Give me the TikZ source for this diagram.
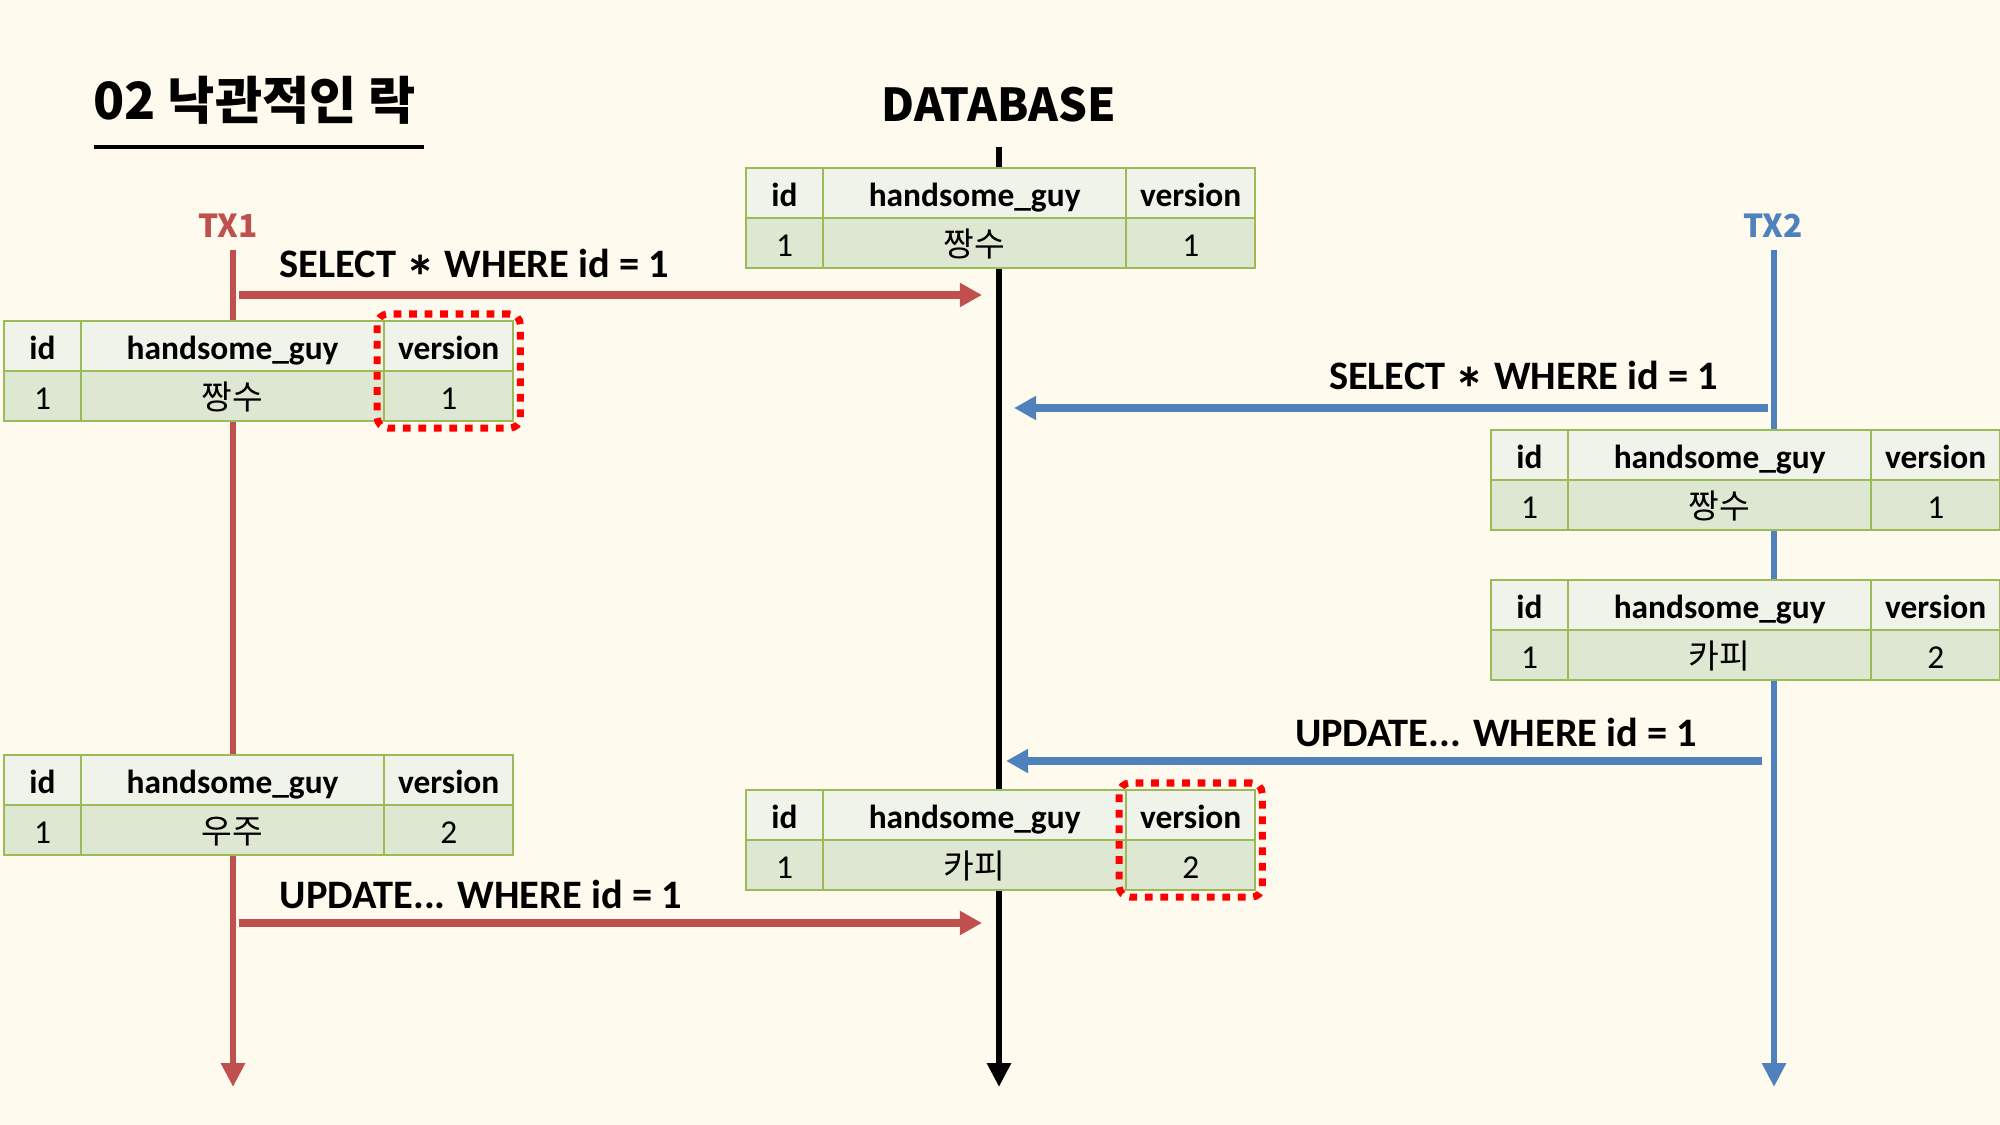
\documentclass[tikz,border=0pt]{standalone}
\usepackage{fontspec}
\setmainfont{Carlito}
\newfontfamily\kr{Noto Sans CJK KR}
\usetikzlibrary{arrows.meta,positioning,fit}
\definecolor{bgcream}{HTML}{FEFAEE}
\definecolor{txred}{HTML}{C0504D}
\definecolor{txblue}{HTML}{4F81BD}
\definecolor{cellline}{HTML}{9BBB59}
\definecolor{cellhead}{HTML}{F0F3EA}
\definecolor{cellrow}{HTML}{DEE7D1}
\tikzset{
	hd/.style={draw=cellline,fill=cellhead,line width=0.6pt,minimum height=0.5cm,inner sep=0pt,outer sep=0pt,text height=0.9em,text depth=0.15em,font=\fontsize{9.5}{10}\selectfont\bfseries},
	rw/.style={hd,fill=cellrow,font=\fontsize{9.5}{10}\selectfont},
	query/.style={inner sep=0pt,font=\fontsize{11.5}{12}\selectfont\bfseries},
	msg/.style={line width=2pt,-{Triangle[length=6.3pt,width=6.5pt]}},
	life/.style={line width=1.8pt,-{Triangle[length=6.8pt,width=6.5pt]}},
	hilite/.style={draw=red,line width=2pt,dash pattern=on 2.2pt off 2.2pt,rounded corners=3pt,inner sep=0.07cm},
}
\newcommand{\qstar}{\raisebox{-0.5em}{\scalebox{1.5}{*}}}
% one row of the table: name, position, handsome_guy, version
\newcommand{\guytab}[4]{%
	\node[hd,minimum width=0.77cm,anchor=north west] (#1-a) at (#2) {id};
	\node[hd,minimum width=3.03cm,right=0pt of #1-a] (#1-b) {handsome\_guy};
	\node[hd,minimum width=1.29cm,right=0pt of #1-b] (#1-c) {version};
	\node[rw,minimum width=0.77cm,below=0pt of #1-a] (#1-d) {1};
	\node[rw,minimum width=3.03cm,below=0pt of #1-b] (#1-e) {\kr #3};
	\node[rw,minimum width=1.29cm,below=0pt of #1-c] (#1-f) {#4};
}
\begin{document}
\begin{tikzpicture}[x=0.01cm,y=-0.01cm]
	\fill[bgcream] (0,0) rectangle (2000,1125);
	\useasboundingbox (0,0) rectangle (2000,1125);
	%title
	\node[anchor=base west,inner sep=0pt,font=\kr\bfseries\fontsize{14.6}{15}\selectfont] (title) at (93,120) {02 낙관적인 락};
	\coordinate (ul-a) at (94,147); \coordinate (ul-b) at (424,147);
	\draw[line width=1.1pt] (ul-a)--(ul-b);
	\node[anchor=base,inner sep=0pt,font=\kr\bfseries\fontsize{12.9}{13}\selectfont] (db) at (999,122) {DATABASE};
	\node[anchor=base,inner sep=0pt,text=txred,font=\kr\bfseries\fontsize{9}{9}\selectfont] (tx1) at (228,238) {TX1};
	\node[anchor=base,inner sep=0pt,text=txblue,font=\kr\bfseries\fontsize{9}{9}\selectfont] (tx2) at (1773,238) {TX2};
	%lifelines
	\coordinate (tx1-top) at (233,250); \coordinate (tx1-end) at (233,1087);
	\coordinate (db-top) at (999,147); \coordinate (db-end) at (999,1087);
	\coordinate (tx2-top) at (1774,250); \coordinate (tx2-end) at (1774,1087);
	\draw[life,txred] (tx1-top)--(tx1-end);
	\draw[life,black] (db-top)--(db-end);
	\draw[life,txblue] (tx2-top)--(tx2-end);
	%messages
	\coordinate (q1-s) at (239,295); \coordinate (q1-e) at (982,295);
	\coordinate (q2-s) at (1768,408); \coordinate (q2-e) at (1014,408);
	\coordinate (q3-s) at (1762,761); \coordinate (q3-e) at (1006,761);
	\coordinate (q4-s) at (239,923); \coordinate (q4-e) at (982,923);
	\draw[msg,txred] (q1-s)--(q1-e);
	\draw[msg,txblue] (q2-s)--(q2-e);
	\draw[msg,txblue] (q3-s)--(q3-e);
	\draw[msg,txred] (q4-s)--(q4-e);
	\node[query,anchor=base west] (q1) at (279,278) {SELECT \qstar{} WHERE id = 1};
	\node[query,anchor=base east] (q2) at (1719,390) {SELECT \qstar{} WHERE id = 1};
	\node[query,anchor=base east] (q3) at (1698,747) {UPDATE... WHERE id = 1};
	\node[query,anchor=base west] (q4) at (279,908) {UPDATE... WHERE id = 1};
	%tables
	\guytab{dbA}{746,168}{짱수}{1}
	\guytab{txA}{4,321}{짱수}{1}
	\guytab{txB}{1491,430}{짱수}{1}
	\guytab{txC}{1491,580}{카피}{2}
	\guytab{txD}{4,755}{우주}{2}
	\guytab{dbB}{746,790}{카피}{2}
	\node[hilite,fit=(txA-c)(txA-f)] (hl1) {};
	\node[hilite,fit=(dbB-c)(dbB-f)] (hl2) {};
\end{tikzpicture}
\end{document}
